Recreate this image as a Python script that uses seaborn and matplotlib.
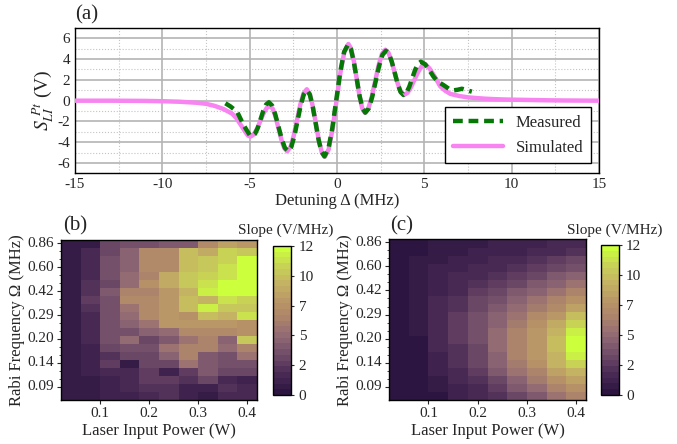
import numpy as np
import matplotlib
matplotlib.use("Agg")
import matplotlib.pyplot as plt
import seaborn as sns
from matplotlib.colors import LinearSegmentedColormap, ListedColormap

# ---- panel (a) data ----
sim_x = [-15, -13, -11, -10, -9, -8, -7.5, -7, -6.5, -6.0, -5.75, -5.5, -5.25, -5.1,
         -4.95, -4.765, -4.58, -4.395, -4.21, -4.025, -3.84,
         -3.675, -3.51, -3.345, -3.18, -3.015, -2.85,
         -2.663, -2.477, -2.29, -2.103, -1.917, -1.73,
         -1.558, -1.387, -1.215, -1.043, -0.872, -0.7,
         -0.475, -0.25, -0.025, 0.2, 0.425, 0.65,
         0.808, 0.967, 1.125, 1.283, 1.442, 1.6,
         1.795, 1.99, 2.185, 2.38, 2.575, 2.77,
         2.947, 3.123, 3.3, 3.477, 3.653, 3.83,
         4.033, 4.237, 4.44, 4.643, 4.847, 5.05,
         5.3, 5.6, 5.9, 6.2, 6.5, 7.0, 7.5, 8, 8.5, 9, 9.5, 10, 11, 12, 13, 15]
sim_y = [0, 0, -0.02, -0.05, -0.1, -0.2, -0.3, -0.5, -0.8, -1.25, -1.7, -2.35, -3.0, -3.35,
         -3.45, -3.25, -2.71, -1.975, -1.24, -0.70, -0.5,
         -0.79, -1.59, -2.68, -3.77, -4.57, -4.86,
         -4.46, -3.37, -1.88, -0.39, 0.70, 1.1,
         0.66, -0.53, -2.15, -3.78, -4.96, -5.4,
         -4.67, -2.69, 0.025, 2.74, 4.72, 5.45,
         5.01, 3.80, 2.15, 0.50, -0.72, -1.16,
         -0.75, 0.36, 1.87, 3.39, 4.49, 4.9,
         4.61, 3.81, 2.73, 1.64, 0.84, 0.55,
         0.75, 1.29, 2.03, 2.76, 3.30, 3.5,
         3.1, 2.3, 1.4, 0.95, 0.65, 0.45, 0.32, 0.25, 0.19, 0.15, 0.12, 0.1, 0.07, 0.04, 0.02, 0]

meas_x = [-6.39, -6.1, -5.72, -5.35, -5.0, -4.85,
          -4.69, -4.53, -4.375, -4.22, -4.06, -3.9,
          -3.717, -3.533, -3.35, -3.167, -2.983, -2.8,
          -2.62, -2.44, -2.26, -2.08, -1.90, -1.72,
          -1.553, -1.387, -1.22, -1.053, -0.887, -0.72,
          -0.495, -0.27, -0.045, 0.18, 0.405, 0.63,
          0.795, 0.96, 1.125, 1.29, 1.455, 1.62,
          1.817, 2.013, 2.21, 2.407, 2.603, 2.8,
          2.968, 3.137, 3.305, 3.473, 3.642, 3.81,
          3.975, 4.14, 4.305, 4.47, 4.635, 4.8,
          5.05, 5.3, 5.53, 5.8, 6.1, 6.4, 6.68, 6.9, 7.15, 7.45, 7.72]
meas_y = [-0.25, -0.55, -1.06, -2.34, -3.3, -3.4,
          -3.18, -2.59, -1.78, -0.97, -0.37, -0.15,
          -0.46, -1.33, -2.5, -3.67, -4.54, -4.85,
          -4.46, -3.39, -1.93, -0.46, 0.61, 1.0,
          0.57, -0.59, -2.18, -3.76, -4.92, -5.35,
          -4.63, -2.66, 0.03, 2.71, 4.68, 5.4,
          4.96, 3.76, 2.13, 0.49, -0.71, -1.15,
          -0.75, 0.34, 1.83, 3.31, 4.40, 4.8,
          4.52, 3.74, 2.68, 1.61, 0.83, 0.55,
          0.76, 1.35, 2.15, 2.95, 3.54, 3.75,
          3.5, 2.9, 2.3, 1.8, 1.5, 1.15, 1.0, 1.05, 1.15, 1.0, 0.87]

# ---- panels (b), (c): slope maps, rows top (0.86 MHz) to bottom ----
power_labels = [0.1, 0.2, 0.3, 0.4]
power_pos = [2.0, 4.5, 7.0, 9.5]          # column index of the tick values
rabi_labels = ["0.86", "0.60", "0.42", "0.29", "0.20", "0.14", "0.09"]
cbar_ticks = [0, 2.4, 4.8, 7.2, 9.6, 12]

slope_meas = np.array([
    [0.5, 0.5, 3.0, 3.5, 3.5, 4.0, 4.0, 6.5, 8.0, 7.5],
    [0.5, 1.5, 3.0, 4.5, 6.5, 6.5, 9.5, 8.5, 10.5, 10.0],
    [0.5, 1.8, 3.5, 4.5, 6.5, 6.5, 9.5, 10.0, 10.5, 12.0],
    [0.6, 1.8, 3.5, 4.5, 6.5, 6.5, 9.5, 10.0, 11.0, 12.0],
    [0.5, 1.8, 3.5, 5.0, 6.0, 8.5, 10.0, 10.5, 11.0, 12.0],
    [0.6, 2.0, 3.0, 5.0, 7.0, 8.5, 10.0, 11.0, 12.0, 12.0],
    [0.6, 2.0, 4.0, 6.0, 6.0, 7.5, 9.0, 11.5, 12.0, 12.0],
    [0.6, 2.5, 3.5, 6.5, 6.5, 7.5, 9.5, 9.0, 11.0, 10.5],
    [0.7, 2.0, 3.5, 5.5, 6.5, 7.5, 9.5, 11.5, 10.0, 10.0],
    [0.5, 1.8, 3.5, 5.0, 6.5, 7.5, 7.0, 9.5, 9.0, 11.0],
    [0.8, 1.5, 3.5, 4.5, 5.5, 7.5, 7.5, 7.5, 7.5, 7.0],
    [0.8, 1.5, 3.5, 3.5, 4.5, 5.0, 6.5, 6.5, 6.5, 7.0],
    [0.6, 1.5, 3.5, 5.0, 3.0, 4.0, 5.5, 6.0, 4.5, 10.0],
    [0.6, 1.0, 3.0, 3.5, 3.5, 5.5, 6.0, 6.0, 5.0, 6.0],
    [0.7, 1.2, 2.0, 3.0, 3.0, 4.5, 6.0, 4.0, 3.5, 5.5],
    [0.5, 1.2, 2.5, 0.8, 3.0, 3.0, 5.5, 4.0, 3.5, 3.5],
    [0.6, 1.0, 1.5, 1.5, 2.5, 1.0, 2.5, 4.0, 3.0, 3.0],
    [0.7, 0.8, 1.0, 1.5, 2.5, 2.5, 2.0, 3.0, 1.5, 1.0],
    [0.8, 0.8, 1.2, 1.5, 2.0, 2.0, 1.2, 1.0, 2.0, 1.5],
    [0.7, 0.7, 1.2, 1.2, 1.5, 2.0, 1.0, 0.6, 1.5, 1.8],
])

slope_sim = np.array([
    [0.2, 0.3, 0.6, 0.7, 0.8, 1.0, 1.0, 1.2, 1.4, 1.8],
    [0.2, 0.3, 0.6, 0.8, 1.0, 1.2, 1.3, 1.5, 1.8, 2.3],
    [0.2, 0.5, 0.9, 1.0, 1.3, 1.5, 1.8, 2.2, 2.5, 2.8],
    [0.2, 0.8, 1.0, 1.2, 1.5, 1.8, 2.2, 2.6, 3.0, 3.4],
    [0.2, 0.8, 1.0, 1.4, 1.8, 2.2, 2.7, 3.2, 3.7, 4.2],
    [0.2, 0.8, 1.1, 1.6, 2.1, 2.6, 3.2, 3.8, 4.5, 5.2],
    [0.2, 0.8, 1.3, 1.8, 2.4, 3.0, 3.7, 4.5, 5.3, 6.2],
    [0.2, 0.8, 1.5, 2.0, 2.8, 3.5, 4.3, 5.2, 6.1, 7.0],
    [0.2, 0.9, 1.6, 2.2, 3.1, 3.9, 4.9, 5.9, 6.9, 8.0],
    [0.2, 0.9, 1.7, 2.4, 3.3, 4.3, 5.4, 6.5, 7.8, 9.3],
    [0.2, 0.9, 1.7, 2.5, 3.4, 4.6, 5.8, 7.0, 8.5, 10.3],
    [0.2, 0.5, 1.6, 2.5, 3.4, 4.8, 6.2, 7.5, 9.2, 11.5],
    [0.2, 0.4, 1.5, 2.4, 3.3, 4.8, 6.4, 7.7, 9.5, 11.8],
    [0.2, 0.4, 1.4, 2.3, 3.2, 4.7, 6.3, 7.6, 9.4, 11.8],
    [0.2, 0.4, 1.3, 2.2, 3.0, 4.5, 6.1, 7.4, 9.2, 11.5],
    [0.2, 0.4, 1.2, 2.0, 2.8, 4.2, 5.8, 7.0, 8.8, 10.5],
    [0.2, 0.3, 1.0, 1.8, 2.5, 3.8, 5.2, 6.4, 8.0, 9.2],
    [0.2, 0.3, 0.8, 1.5, 2.1, 3.2, 4.5, 5.6, 7.0, 8.2],
    [0.2, 0.3, 0.5, 1.2, 1.8, 2.7, 3.8, 4.8, 6.0, 7.2],
    [0.2, 0.3, 0.3, 1.0, 1.5, 2.3, 3.2, 4.1, 5.2, 6.3],
])

# ---- style ----
sns.set_style("white")
plt.rcParams['font.family'] = ['Liberation Serif', 'DejaVu Serif']
plt.rcParams['mathtext.fontset'] = 'stix'
plt.rcParams['axes.linewidth'] = 1.0
plt.rcParams['axes.unicode_minus'] = False

base = LinearSegmentedColormap.from_list(
    "slope", ["#2c1540", "#4a2a55", "#6e4a68", "#8e6674", "#a9806c",
              "#b99466", "#c4b064", "#c8d058", "#ccff3c"])
cmap = ListedColormap(base(np.linspace(0, 1, 26)))

fig = plt.figure(figsize=(6.77, 4.44), dpi=100)

# ---- panel (a) ----
ax = fig.add_axes([75 / 677, 1 - 173.5 / 444, 524 / 677, 145.6 / 444])
ax.plot(sim_x, sim_y, color="#f784f0", lw=3.2, label="Simulated", zorder=3)
ax.plot(meas_x, meas_y, color="#067806", lw=3.2, ls=(0, (2.2, 1.3)), label="Measured", zorder=4)
ax.set_xlim(-15, 15)
ax.set_ylim(-7, 7)
ax.set_xticks(range(-15, 16, 5))
ax.set_yticks(range(-6, 7, 2))
ax.set_xticks(np.arange(-12.5, 15, 5), minor=True)
ax.set_yticks(range(-7, 8, 2), minor=True)
ax.grid(which="major", color="#b4b4b4", lw=1.2, ls="-")
ax.grid(which="minor", color="#c4c4c4", lw=0.8, ls=":")
ax.tick_params(which="both", direction="in", labelsize=11, length=3)
ax.tick_params(which="minor", length=2)
ax.set_xlabel("Detuning Δ (MHz)", fontsize=12, labelpad=1)
ax.set_ylabel(r"$S_{LI}^{\ Pt}$ (V)", fontsize=14, labelpad=1)
for s in ax.spines.values():
    s.set_color("black")
handles, labels = ax.get_legend_handles_labels()
leg = ax.legend(handles[::-1], labels[::-1], loc="lower right", bbox_to_anchor=(0.985, 0.07),
                fontsize=12, frameon=True, fancybox=False, framealpha=1,
                edgecolor="black", handlelength=3.0, borderpad=0.45, labelspacing=0.55,
                borderaxespad=0)
leg.get_frame().set_linewidth(1.0)
fig.text(75 / 677, 1 - 15 / 444, "(a)", fontsize=15, va="center", ha="left")


def slope_map(data, rect, cax_rect, label, lx, title_x):
    hax = fig.add_axes(rect)
    cax = fig.add_axes(cax_rect)
    sns.heatmap(data, ax=hax, cmap=cmap, vmin=0, vmax=12, cbar_ax=cax,
                cbar_kws={"ticks": cbar_ticks})
    hax.set_xticks(power_pos)
    hax.set_xticklabels([f"{p:.1f}" for p in power_labels], rotation=0)
    ypos = [0.35 + 3 * k for k in range(len(rabi_labels))]
    hax.set_yticks(ypos)
    hax.set_yticklabels(rabi_labels, rotation=0)
    hax.set_yticks([p + d for p in ypos[:-1] for d in (1, 2)], minor=True)
    hax.tick_params(which="major", direction="out", length=3, labelsize=11, pad=2)
    hax.tick_params(which="minor", axis="y", direction="out", length=1.5, left=True)
    hax.tick_params(axis="x", bottom=True)
    hax.tick_params(axis="y", left=True)
    for s in hax.spines.values():
        s.set_visible(True)
        s.set_color("black")
        s.set_linewidth(1.0)
    hax.set_xlabel("Laser Input Power (W)", fontsize=12, labelpad=2)
    hax.set_ylabel("Rabi Frequency Ω (MHz)", fontsize=12, labelpad=2)
    cb = hax.collections[0].colorbar
    cb.outline.set_linewidth(1.0)
    cb.outline.set_edgecolor("black")
    cb.set_ticklabels([f"{t:.0f}" for t in cbar_ticks])
    cax.tick_params(labelsize=11, length=2.5, direction="out", pad=3)
    fig.text(lx, 1 - 226 / 444, label, fontsize=15, va="center", ha="left")
    fig.text(title_x, 1 - 230 / 444, "Slope (V/MHz)", fontsize=11, va="center", ha="right")


slope_map(slope_meas, [61 / 677, 1 - 400 / 444, 196 / 677, 159.5 / 444],
          [273 / 677, 1 - 395 / 444, 18 / 677, 149 / 444], "(b)", 63 / 677, 333 / 677)
slope_map(slope_sim, [389 / 677, 1 - 400 / 444, 197 / 677, 160.5 / 444],
          [600.5 / 677, 1 - 395 / 444, 18 / 677, 150 / 444], "(c)", 390 / 677, 662 / 677)

fig.savefig("out.png", dpi=100)
